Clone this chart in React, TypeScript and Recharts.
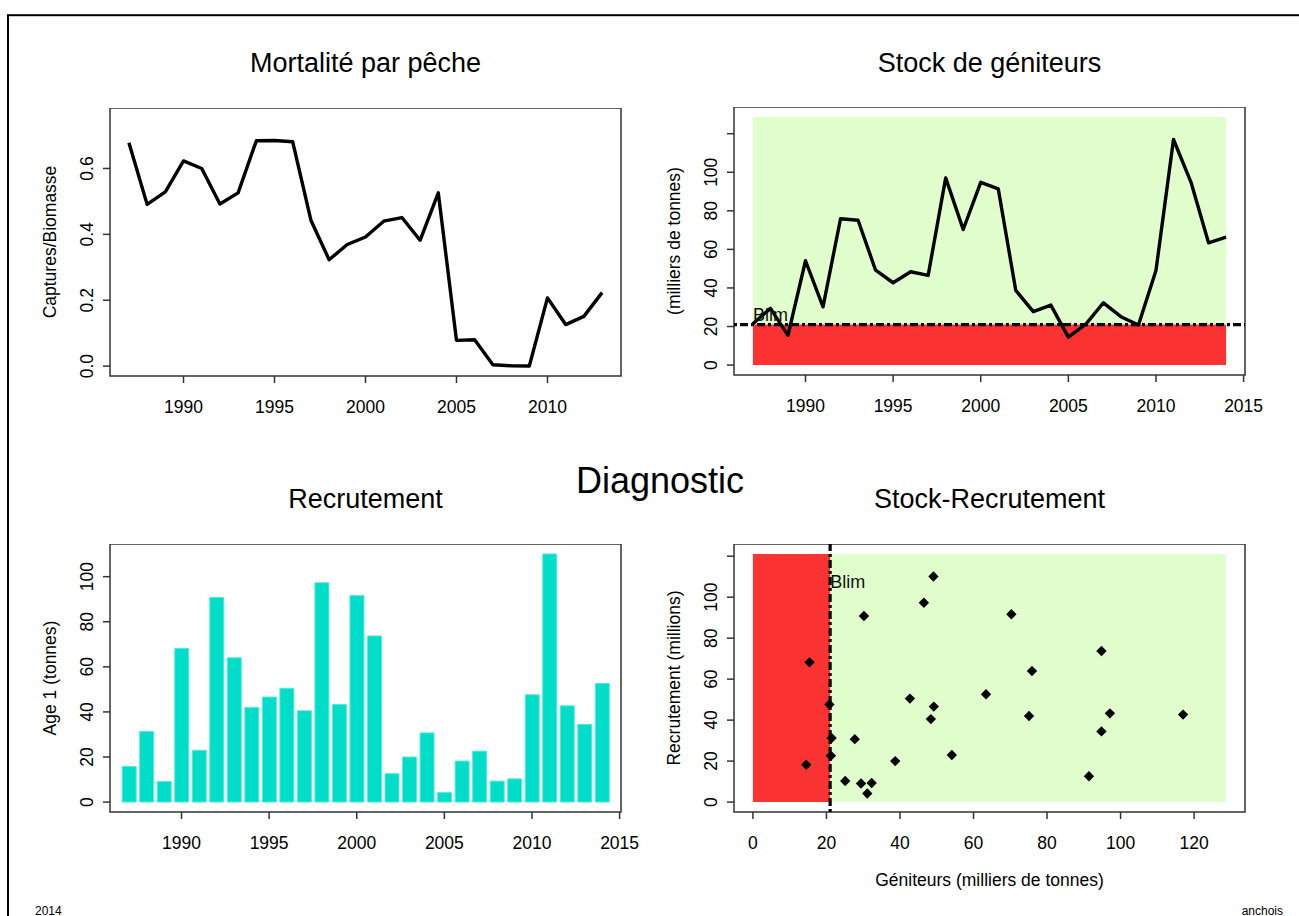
import React from 'react';
import {
  ComposedChart,
  Line,
  Bar,
  Scatter,
  XAxis,
  YAxis,
  ReferenceArea,
  ReferenceLine,
} from 'recharts';

const years = [
  1987, 1988, 1989, 1990, 1991, 1992, 1993, 1994, 1995, 1996, 1997, 1998, 1999, 2000,
  2001, 2002, 2003, 2004, 2005, 2006, 2007, 2008, 2009, 2010, 2011, 2012, 2013, 2014,
];

// captures / biomasse, 1987-2013
const fishingMortality = [
  0.678, 0.491, 0.529, 0.623, 0.6, 0.492, 0.526, 0.684, 0.685, 0.681, 0.443, 0.323, 0.369,
  0.392, 0.44, 0.451, 0.382, 0.526, 0.078, 0.08, 0.004, 0.001, 0.0, 0.207, 0.126, 0.151, 0.223,
];

// milliers de tonnes, 1987-2014
const spawningStock = [
  21.4, 29.4, 15.4, 54.1, 30.2, 75.9, 75.1, 49.2, 42.7, 48.4, 46.5, 97.1, 70.3, 94.8,
  91.4, 38.7, 27.7, 31.1, 14.5, 21.2, 32.3, 25.1, 20.8, 49.1, 117.0, 94.8, 63.4, 66.3,
];

// age 1, 1987-2014
const recruitment = [
  15.8, 31.3, 9.1, 68.2, 23.0, 90.8, 64.0, 42.0, 46.6, 50.5, 40.5, 97.3, 43.3, 91.7,
  73.7, 12.6, 20.0, 30.7, 4.2, 18.2, 22.6, 9.3, 10.3, 47.6, 110.1, 42.7, 34.5, 52.6,
];

const BLIM = 21;

const yearTicksShort = [1990, 1995, 2000, 2005, 2010];
const yearTicksLong = [1990, 1995, 2000, 2005, 2010, 2015];
const fTicks = [0, 0.2, 0.4, 0.6];
const ssbTicks = [0, 20, 40, 60, 80, 100, 120];
const ssbTickLabels = ['0', '20', '40', '60', '80', '100', ''];
const recTicks = [0, 20, 40, 60, 80, 100];
const srXTicks = [0, 20, 40, 60, 80, 100, 120];
const srYTicks = [0, 20, 40, 60, 80, 100, 120];
const srYTickLabels = ['0', '20', '40', '60', '80', '100', ''];

const FONT = '"Liberation Sans", Arial, Helvetica, sans-serif';
const TICK_FS = 17.5;
const GREEN = '#E0FFCC';
const RED = '#FA3232';
const TURQ = '#00DDC9';
const DOTDASH = '3 3 8 3';

// R pads the axis range by 4% on each side
const rRange = (lo: number, hi: number): [number, number] => {
  const d = (hi - lo) * 0.04;
  return [lo - d, hi + d];
};

const fData = fishingMortality.map((f, i) => ({ year: years[i], f }));
const ssbData = years.map((year, i) => ({ year, ssb: spawningStock[i] }));
const recData = years.map((year, i) => ({ year, rec: recruitment[i] }));
// stock of year t against recruits of year t+1
const srData = spawningStock.slice(0, -1).map((s, i) => ({ x: s, y: recruitment[i + 1] }));

const maxF = Math.max(...fishingMortality);
const maxSsb = Math.max(...spawningStock);
const maxRec = Math.max(...recruitment);

const p1x = rRange(years[0], years[fishingMortality.length - 1]);
const p1y = rRange(0, maxF * 1.1);
const p2x = rRange(years[0], years[years.length - 1]);
const p2y = rRange(0, maxSsb * 1.1);
const p3x = rRange(years[0], years[years.length - 1]);
const p3y = rRange(0, maxRec);
const p4x = rRange(0, maxSsb * 1.1);
const p4y = rRange(0, maxRec * 1.1);

const rotTick = (fmt: (v: number) => string) => (props: any) => {
  const { x, y, payload } = props;
  return (
    <text
      x={x}
      y={y}
      transform={`rotate(-90 ${x} ${y})`}
      textAnchor="middle"
      fontSize={TICK_FS}
      fontFamily={FONT}
      fill="#000"
    >
      {fmt(payload.value)}
    </text>
  );
};

const Diamond = (props: any) => {
  const { cx, cy } = props;
  const r = 5.2;
  return (
    <polygon
      points={`${cx},${cy - r} ${cx + r},${cy} ${cx},${cy + r} ${cx - r},${cy}`}
      fill="#000"
    />
  );
};

const xTickStyle = { fill: '#000', fontSize: TICK_FS, fontFamily: FONT };
const tickLineStyle = { stroke: '#333', strokeWidth: 1.5 };

// plot box is 511 px wide after a 100 px y axis; 30 px spare on the right for end labels
const W = 641;
const YW = 100;
const MARGIN = { top: 0, right: 30, bottom: 0, left: 0 };

export default function App() {
  const box = (x: [number, number], y: [number, number]) => (
    <ReferenceArea
      x1={x[0]}
      x2={x[1]}
      y1={y[0]}
      y2={y[1]}
      fill="none"
      fillOpacity={0}
      stroke="#333"
      strokeWidth={1.5}
      ifOverflow="visible"
    />
  );

  return (
    <div
      style={{
        position: 'absolute',
        left: 0,
        top: 0,
        width: 1299,
        height: 916,
        overflow: 'hidden',
        background: '#fff',
        fontFamily: FONT,
      }}
    >
      {/* Mortalité par pêche */}
      <div style={{ position: 'absolute', left: 10, top: 108 }}>
        <ComposedChart width={W} height={318} data={fData} margin={MARGIN}>
          <XAxis
            dataKey="year"
            type="number"
            domain={p1x}
            allowDataOverflow
            ticks={yearTicksShort}
            interval={0}
            height={50}
            axisLine={false}
            tickLine={tickLineStyle}
            tickSize={7}
            tickMargin={18}
            tick={xTickStyle}
          />
          <YAxis
            type="number"
            domain={p1y}
            allowDataOverflow
            ticks={fTicks}
            interval={0}
            width={YW}
            axisLine={false}
            tickLine={tickLineStyle}
            tickSize={7}
            tickMargin={10}
            tick={rotTick((v) => v.toFixed(1))}
          />
          <Line
            dataKey="f"
            stroke="#000"
            strokeWidth={3.4}
            strokeLinejoin="round"
            dot={false}
            isAnimationActive={false}
          />
          {box(p1x, p1y)}
        </ComposedChart>
      </div>

      {/* Stock de géniteurs */}
      <div style={{ position: 'absolute', left: 634, top: 107 }}>
        <ComposedChart width={W} height={318} data={ssbData} margin={MARGIN}>
          <XAxis
            dataKey="year"
            type="number"
            domain={p2x}
            allowDataOverflow
            ticks={yearTicksLong}
            interval={0}
            height={50}
            axisLine={false}
            tickLine={tickLineStyle}
            tickSize={7}
            tickMargin={18}
            tick={xTickStyle}
          />
          <YAxis
            type="number"
            domain={p2y}
            allowDataOverflow
            ticks={ssbTicks}
            interval={0}
            width={YW}
            axisLine={false}
            tickLine={tickLineStyle}
            tickSize={7}
            tickMargin={10}
            tick={rotTick((v) => ssbTickLabels[ssbTicks.indexOf(v)] ?? String(v))}
          />
          <ReferenceArea
            x1={years[0]}
            x2={years[years.length - 1]}
            y1={0}
            y2={maxSsb * 1.1}
            fill={GREEN}
            fillOpacity={1}
            stroke="none"
          />
          <ReferenceArea
            x1={years[0]}
            x2={years[years.length - 1]}
            y1={0}
            y2={BLIM}
            fill={RED}
            fillOpacity={1}
            stroke="none"
          />
          <Line
            dataKey="ssb"
            stroke="#000"
            strokeWidth={3.4}
            strokeLinejoin="round"
            dot={false}
            isAnimationActive={false}
          />
          <ReferenceLine
            y={BLIM}
            stroke="#000"
            strokeWidth={3.2}
            strokeDasharray={DOTDASH}
            label={{
              content: (p: any) => {
                const vb = p.viewBox || {};
                const lx = vb.x + (vb.width * (years[0] - p2x[0])) / (p2x[1] - p2x[0]);
                return (
                  <text x={lx} y={vb.y - 4} fontSize={18} fontFamily={FONT} fill="#111">
                    Blim
                  </text>
                );
              },
            }}
          />
          {box(p2x, p2y)}
        </ComposedChart>
      </div>

      {/* Recrutement */}
      <div style={{ position: 'absolute', left: 10, top: 544 }}>
        <ComposedChart width={W} height={318} data={recData} margin={MARGIN}>
          <XAxis
            dataKey="year"
            type="number"
            domain={p3x}
            allowDataOverflow
            ticks={yearTicksLong}
            interval={0}
            height={50}
            axisLine={false}
            tickLine={tickLineStyle}
            tickSize={7}
            tickMargin={18}
            tick={xTickStyle}
          />
          <YAxis
            type="number"
            domain={p3y}
            allowDataOverflow
            ticks={recTicks}
            interval={0}
            width={YW}
            axisLine={false}
            tickLine={tickLineStyle}
            tickSize={7}
            tickMargin={10}
            tick={rotTick((v) => String(v))}
          />
          <Bar
            dataKey="rec"
            fill={TURQ}
            stroke="#5BE8DA"
            strokeWidth={1}
            barSize={14}
            isAnimationActive={false}
          />
          {box(p3x, p3y)}
        </ComposedChart>
      </div>

      {/* Stock-Recrutement */}
      <div style={{ position: 'absolute', left: 634, top: 544 }}>
        <ComposedChart width={W} height={358} margin={MARGIN}>
          <XAxis
            dataKey="x"
            type="number"
            domain={p4x}
            allowDataOverflow
            ticks={srXTicks}
            interval={0}
            height={90}
            axisLine={false}
            tickLine={tickLineStyle}
            tickSize={7}
            tickMargin={18}
            tick={xTickStyle}
          />
          <YAxis
            dataKey="y"
            type="number"
            domain={p4y}
            allowDataOverflow
            ticks={srYTicks}
            interval={0}
            width={YW}
            axisLine={false}
            tickLine={tickLineStyle}
            tickSize={7}
            tickMargin={10}
            tick={rotTick((v) => srYTickLabels[srYTicks.indexOf(v)] ?? String(v))}
          />
          <ReferenceArea
            x1={BLIM}
            x2={maxSsb * 1.1}
            y1={0}
            y2={maxRec * 1.1}
            fill={GREEN}
            fillOpacity={1}
            stroke="none"
          />
          <ReferenceArea
            x1={0}
            x2={BLIM}
            y1={0}
            y2={maxRec * 1.1}
            fill={RED}
            fillOpacity={1}
            stroke="none"
          />
          <ReferenceLine
            x={BLIM}
            stroke="#000"
            strokeWidth={3.2}
            strokeDasharray={DOTDASH}
            label={{
              content: (p: any) => {
                const vb = p.viewBox || {};
                const ly = vb.y + (vb.height * (p4y[1] - maxRec * 0.95)) / (p4y[1] - p4y[0]);
                return (
                  <text x={vb.x} y={ly} fontSize={18} fontFamily={FONT} fill="#111">
                    Blim
                  </text>
                );
              },
            }}
          />
          <Scatter data={srData} fill="#000" shape={<Diamond />} isAnimationActive={false} />
          {box(p4x, p4y)}
        </ComposedChart>
      </div>

      <svg
        width={1299}
        height={916}
        style={{ position: 'absolute', left: 0, top: 0, pointerEvents: 'none' }}
        fontFamily={FONT}
      >
        <rect x={8} y={15.2} width={1400} height={1000} fill="none" stroke="#000" strokeWidth={2} />
        <g fontSize={27} textAnchor="middle" fill="#000">
          <text x={365.5} y={72}>Mortalité par pêche</text>
          <text x={989.5} y={72}>Stock de géniteurs</text>
          <text x={365.5} y={508}>Recrutement</text>
          <text x={989.5} y={508}>Stock-Recrutement</text>
        </g>
        <text x={660} y={493} fontSize={36} textAnchor="middle" fill="#000">
          Diagnostic
        </text>
        <g fontSize={TICK_FS} textAnchor="middle" fill="#000">
          <text x={56} y={242} transform="rotate(-90 56 242)">Captures/Biomasse</text>
          <text x={680} y={241} transform="rotate(-90 680 241)">(milliers de tonnes)</text>
          <text x={56} y={678} transform="rotate(-90 56 678)">Age 1 (tonnes)</text>
          <text x={680} y={678} transform="rotate(-90 680 678)">Recrutement (millions)</text>
          <text x={989.5} y={886}>Géniteurs (milliers de tonnes)</text>
        </g>
        <text x={35} y={914.5} fontSize={12} fill="#000">2014</text>
        <text x={1283} y={914.5} fontSize={12} textAnchor="end" fill="#000">anchois</text>
      </svg>
    </div>
  );
}
